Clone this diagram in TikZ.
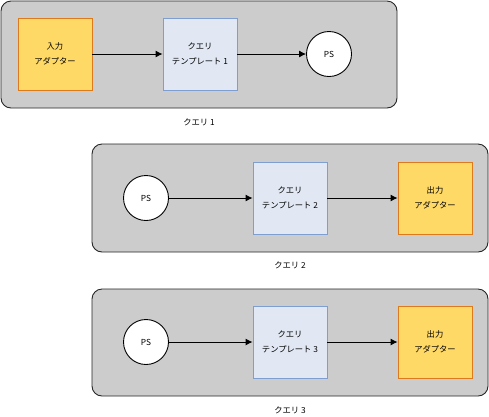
\documentclass[tikz,border=0pt]{standalone}
\usepackage{fontspec}
\setmainfont{Noto Sans CJK JP}
\usetikzlibrary{positioning,arrows.meta}
\definecolor{panelgray}{HTML}{CCCCCC}
\definecolor{adapterfill}{HTML}{FFD966}
\definecolor{adapterline}{HTML}{DE7A1E}
\definecolor{tmplfill}{HTML}{E1E8F4}
\definecolor{tmplline}{HTML}{7E9ED2}
\tikzset{
  panel/.style={draw=black!85,fill=panelgray,rounded corners=10pt,line width=0.9pt,minimum width=396pt},
  adapter/.style={draw=adapterline,fill=adapterfill,line width=0.9pt,minimum width=74pt,minimum height=72pt,align=center},
  tmpl/.style={draw=tmplline,fill=tmplfill,line width=0.9pt,minimum width=74pt,minimum height=72pt,align=center},
  psnode/.style={circle,draw=black,fill=white,line width=0.9pt,minimum size=45pt},
  flow/.style={line width=0.9pt,-{Latex[length=7pt,width=7pt]}},
  caption/.style={inner sep=0pt}
}
\begin{document}
\begin{tikzpicture}[x=1pt,y=-1pt,font=\fontsize{8.3}{14.5}\selectfont]
      \useasboundingbox (0,0) rectangle (489,416);
      \node (p1) [panel,minimum height=107pt] at (199,54.5) {};
      \node (p2) [panel,minimum height=108pt] at (290,198) {};
      \node (p3) [panel,minimum height=107pt] at (290,342.5) {};
      \node (in1) [adapter] at (55,54) {入力\\アダプター};
      \node (q1) [tmpl] at (200,54) {クエリ\\テンプレート 1};
      \node (ps1) [psnode] at (329,54) {PS};
      \node (ps2) [psnode] at (146,198) {PS};
      \node (q2) [tmpl] at (290,198) {クエリ\\テンプレート 2};
      \node (out2) [adapter] at (435,198) {出力\\アダプター};
      \node (ps3) [psnode] at (146,342) {PS};
      \node (q3) [tmpl] at (290,342) {クエリ\\テンプレート 3};
      \node (out3) [adapter] at (435,342) {出力\\アダプター};
      \node (c1) [caption] at (199,122) {クエリ 1};
      \node (c2) [caption] at (290,265) {クエリ 2};
      \node (c3) [caption] at (290,410) {クエリ 3};
      \draw[flow] (in1) -- (q1);
      \draw[flow] (q1) -- (ps1);
      \draw[flow] (ps2) -- (q2);
      \draw[flow] (q2) -- (out2);
      \draw[flow] (ps3) -- (q3);
      \draw[flow] (q3) -- (out3);
    \end{tikzpicture}
\end{document}
